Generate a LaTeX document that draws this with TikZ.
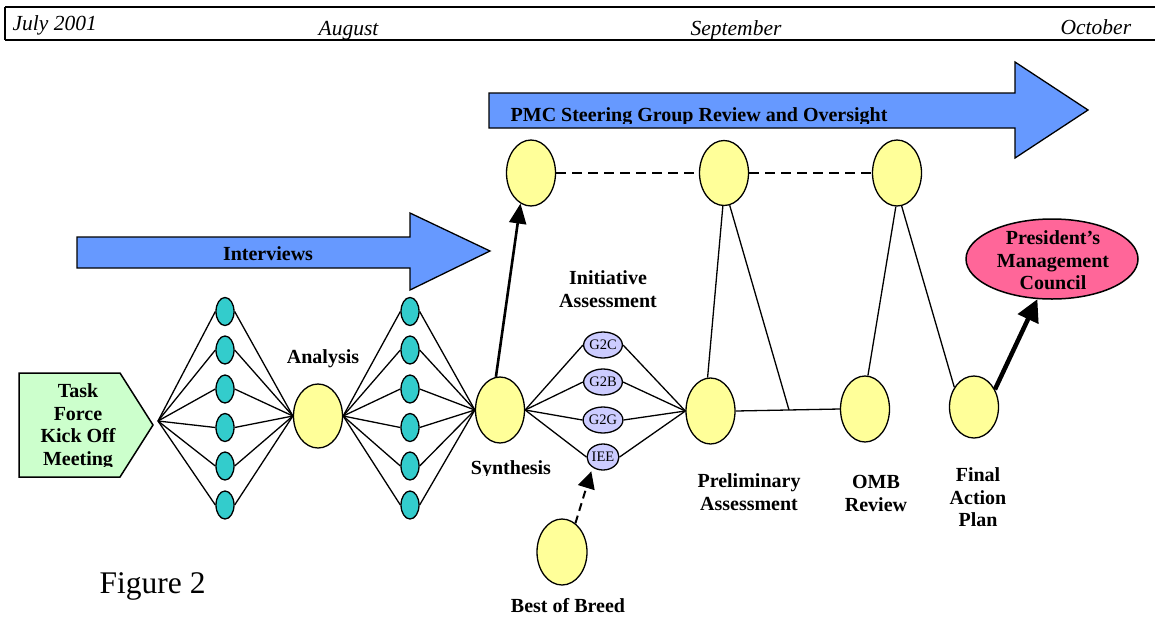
\documentclass[tikz,border=0pt]{standalone}
\usepackage{fontspec}
\setmainfont{Liberation Serif}
\usetikzlibrary{shapes.geometric,arrows.meta}
\definecolor{arrowblue}{HTML}{6699FF}
\definecolor{nodeyellow}{HTML}{FFFF99}
\definecolor{nodecyan}{HTML}{33CCCC}
\definecolor{nodelav}{HTML}{CCCCFF}
\definecolor{nodepink}{HTML}{FF6699}
\definecolor{nodegreen}{HTML}{CCFFCC}
\begin{document}
\begin{tikzpicture}[x=1pt,y=-1pt,line width=1.3pt,
  yel/.style={ellipse,draw,fill=nodeyellow,minimum width=49pt,minimum height=65pt,inner sep=0pt},
  cy/.style={ellipse,draw,fill=nodecyan,minimum width=18pt,minimum height=28pt,inner sep=0pt},
  sm/.style={ellipse,draw,fill=nodelav,minimum width=30pt,minimum height=26pt,inner sep=0pt,
     font=\fontsize{14.5}{14.5}\selectfont},
  lbl/.style={font=\fontsize{20}{22.5}\selectfont\bfseries,align=center,inner sep=0pt},
  hdr/.style={font=\fontsize{21.5}{21.5}\selectfont\itshape,inner sep=0pt,anchor=base west},
  bigarrow/.style={draw,fill=arrowblue,line width=1.3pt},
  fan/.style={line width=1.3pt}]
\useasboundingbox (0,0) rectangle (1155,616);

% header
\draw[line width=2pt] (5,7) -- (1155,7);
\draw[line width=1.5pt] (5,7) -- (5,40);
\draw[line width=2pt] (5,40) -- (1155,40);
\node[hdr] (hjul) at (12,30) {July 2001};
\node[hdr] (haug) at (318,35) {August};
\node[hdr] (hsep) at (690,35) {September};
\node[hdr] (hoct) at (1060,34) {October};

% big arrows
\draw[bigarrow] (77,237) -- (410,237) -- (410,213) -- (490,251) -- (410,290) -- (410,268) -- (77,268) -- cycle;
\node[lbl,anchor=base] (tint) at (268,260) {Interviews};
\draw[bigarrow] (489,93) -- (1015,93) -- (1015,62) -- (1088,110) -- (1015,158) -- (1015,128) -- (489,128) -- cycle;
\begin{scope}
\clip (489,93) rectangle (1015,123);
\node[lbl,anchor=base west] (tpmc) at (510,121) {PMC Steering Group Review and Oversight};
\end{scope}

% task force
\draw[fill=nodegreen,line width=1.5pt] (19,373) -- (120,373) -- (153,425) -- (120,477) -- (19,477) -- cycle;
\begin{scope}
\clip (19,373) rectangle (150,466);
\node[lbl,anchor=north] (ttask) at (78,383) {Task\\Force\\Kick Off\\Meeting};
\end{scope}
\coordinate (kick) at (158,421);

% analysis and synthesis
\node[yel,minimum height=64pt] (ana) at (318,416) {};
\node[lbl,anchor=base] (tana) at (323,363) {Analysis};
\node[yel,minimum height=66pt] (syn) at (500,410) {};
\begin{scope}
\clip (450,440) rectangle (570,475);
\node[lbl,anchor=base] (tsyn) at (511,474) {Synthesis};
\end{scope}

% fans
\foreach \i/\y in {1/311.5,2/350,3/389,4/427.5,5/466,6/505}{
  \node[cy] (c\i) at (225,\y) {};
  \node[cy] (d\i) at (410,\y) {};
}
\foreach \i in {1,...,6}{
  \draw[fan] (kick) -- (c\i.west);
  \draw[fan] (c\i.east) -- (ana.west);
  \draw[fan] (ana.east) -- (d\i.west);
  \draw[fan] (d\i.east) -- (syn.west);
}

% initiative assessment
\node[lbl,anchor=north] (tini) at (608,270) {Initiative\\Assessment};
\node[sm] (g2c) at (603,345) {G2C};
\node[sm] (g2b) at (603,382) {G2B};
\node[sm] (g2g) at (603,420) {G2G};
\node[sm] (iee) at (603,457) {IEE};
\node[yel,minimum height=66pt] (pre) at (710.5,411) {};
\foreach \n in {g2c,g2b,g2g,iee}{
  \draw[fan] (syn.east) -- (\n.west);
  \draw[fan] (\n.east) -- (pre.west);
}
\node[lbl,anchor=north] (tpre) at (749,473) {Preliminary\\Assessment};

% top row
\node[yel,minimum height=66pt] (top1) at (531,173) {};
\node[yel] (top2) at (724,173) {};
\node[yel,minimum height=66pt] (top3) at (897,173) {};
\draw[dash pattern=on 10pt off 6pt] (top1.east) -- (top2.west);
\draw[dash pattern=on 10pt off 6pt] (top2.east) -- (top3.west);

% omb, final
\node[yel,minimum height=66pt] (omb) at (865,409) {};
\node[lbl,anchor=north] (tomb) at (876,475) {OMB\\Review};
\node[yel,minimum height=62pt] (fin) at (974,407) {};
\node[lbl,anchor=north] (tfin) at (978,467) {Final\\Action\\Plan};
\coordinate (join) at (789,410);

\draw (pre.east) -- (omb.west);
\draw (pre.95) -- (top2.268);
\draw (top2.280) -- (join);
\draw (omb.85) -- (top3.268);
\draw (top3.278) -- (fin.135);

% synthesis arrow
\draw[line width=2.6pt,-{Triangle[length=20pt,width=17pt]}] (syn.97) -- (top1.251);

% president
\node[ellipse,draw,fill=nodepink,minimum width=172pt,minimum height=80pt,inner sep=0pt,line width=1.5pt] (pres) at (1052,259) {};
\node[lbl,anchor=north] (tpres) at (1053,230) {President’s\\Management\\Council};
\draw[line width=4.5pt,-{Triangle[length=22pt,width=22pt]}] (fin.40) -- (pres.250);

% best of breed
\node[yel,minimum width=50pt,minimum height=66pt] (bob) at (562,552) {};
\node[lbl,anchor=base] (tbob) at (568,612) {Best of Breed};
\draw[line width=2pt,dash pattern=on 8pt off 5pt,shorten >=4pt,-{Triangle[length=17pt,width=17pt]}] (bob.65) -- (iee.225);

% caption
\node[font=\fontsize{31.5}{31.5}\selectfont,inner sep=0pt,anchor=base west] (fig) at (99,593) {Figure 2};
\end{tikzpicture}
\end{document}
